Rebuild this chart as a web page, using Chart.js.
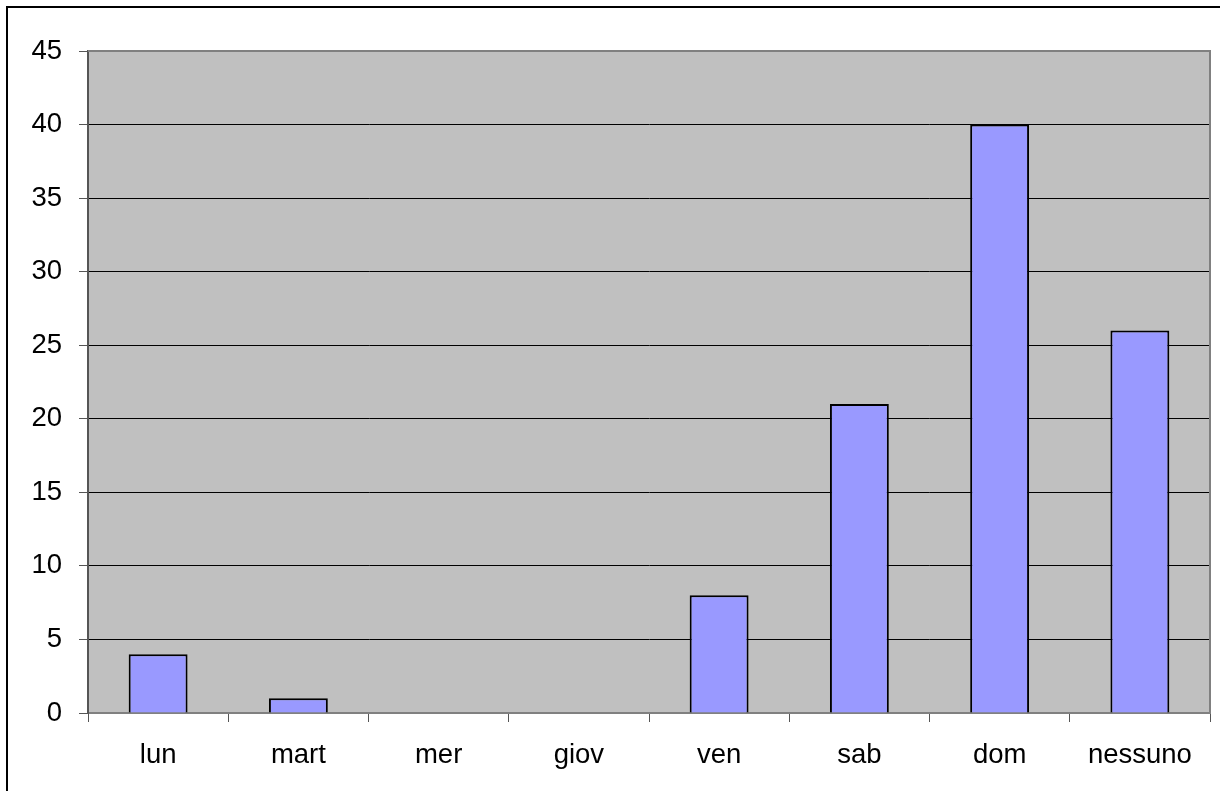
<!DOCTYPE html>
<html>
<head>
<meta charset="utf-8">
<script src="https://cdn.jsdelivr.net/npm/chart.js@4"></script>
<style>
  html, body { margin: 0; padding: 0; background: #fff; }
  #wrap { position: relative; width: 1220px; height: 791px; }
  #frame { position: absolute; left: 6px; top: 6px; right: -10px; bottom: -10px; border-left: 2px solid #000; border-top: 2px solid #000; }
</style>
</head>
<body>
<div id="wrap">
  <canvas id="chart" width="1220" height="791"></canvas>
  <div id="frame"></div>
</div>
<script>
// Data
const days = ["lun", "mart", "mer", "giov", "ven", "sab", "dom", "nessuno"];
const counts = [4, 1, 0, 0, 8, 21, 40, 26];
const yTicks = [0, 5, 10, 15, 20, 25, 30, 35, 40, 45];

// gray plot background + gray frame on top/right
const plotArea = {
    id: 'plotArea',
    beforeDraw(chart) {
        const a = chart.chartArea;
        const ctx = chart.ctx;
        ctx.save();
        ctx.fillStyle = '#C0C0C0';
        ctx.fillRect(a.left, a.top, a.right - a.left, a.bottom - a.top);
        ctx.restore();
    },
    afterDatasetsDraw(chart) {
        const a = chart.chartArea;
        const ctx = chart.ctx;
        ctx.save();
        ctx.strokeStyle = '#808080';
        ctx.lineWidth = 2;
        ctx.beginPath();
        ctx.moveTo(a.left, a.top);
        ctx.lineTo(a.right, a.top);
        ctx.lineTo(a.right, a.bottom);
        ctx.stroke();
        ctx.restore();
    }
};

Chart.defaults.font.family = '"Liberation Sans", Arial, sans-serif';
Chart.defaults.color = '#000';

const ctx = document.getElementById('chart').getContext('2d');
new Chart(ctx, {
    type: 'bar',
    data: {
        labels: days,
        datasets: [{
            data: counts,
            backgroundColor: '#9999FF',
            borderColor: '#000',
            borderWidth: 2,
            barPercentage: 0.42,
            categoryPercentage: 1
        }]
    },
    plugins: [plotArea],
    options: {
        responsive: false,
        animation: false,
        layout: { padding: { left: 0, top: 51, right: 10, bottom: 0 } },
        plugins: { legend: { display: false }, tooltip: { enabled: false } },
        scales: {
            x: {
                offset: true,
                grid: { offset: true, drawOnChartArea: false, drawTicks: true, tickLength: 9, color: '#555' },
                border: { display: true, color: '#808080', width: 2 },
                ticks: { font: { size: 27.5 }, padding: 17 },
                afterFit: s => { s.height = 78; }
            },
            y: {
                min: 0,
                max: 45,
                afterBuildTicks: s => { s.ticks = yTicks.map(v => ({ value: v })); },
                grid: {
                    color: c => (c.tick.value === 0 || c.tick.value === 45) ? 'rgba(0,0,0,0)' : '#000',
                    tickColor: '#555',
                    tickLength: 9,
                    lineWidth: 1
                },
                border: { display: true, color: '#555', width: 2 },
                ticks: { font: { size: 27.5 }, padding: 17 },
                afterFit: s => { s.width = 88; }
            }
        }
    }
});
</script>
</body>
</html>
